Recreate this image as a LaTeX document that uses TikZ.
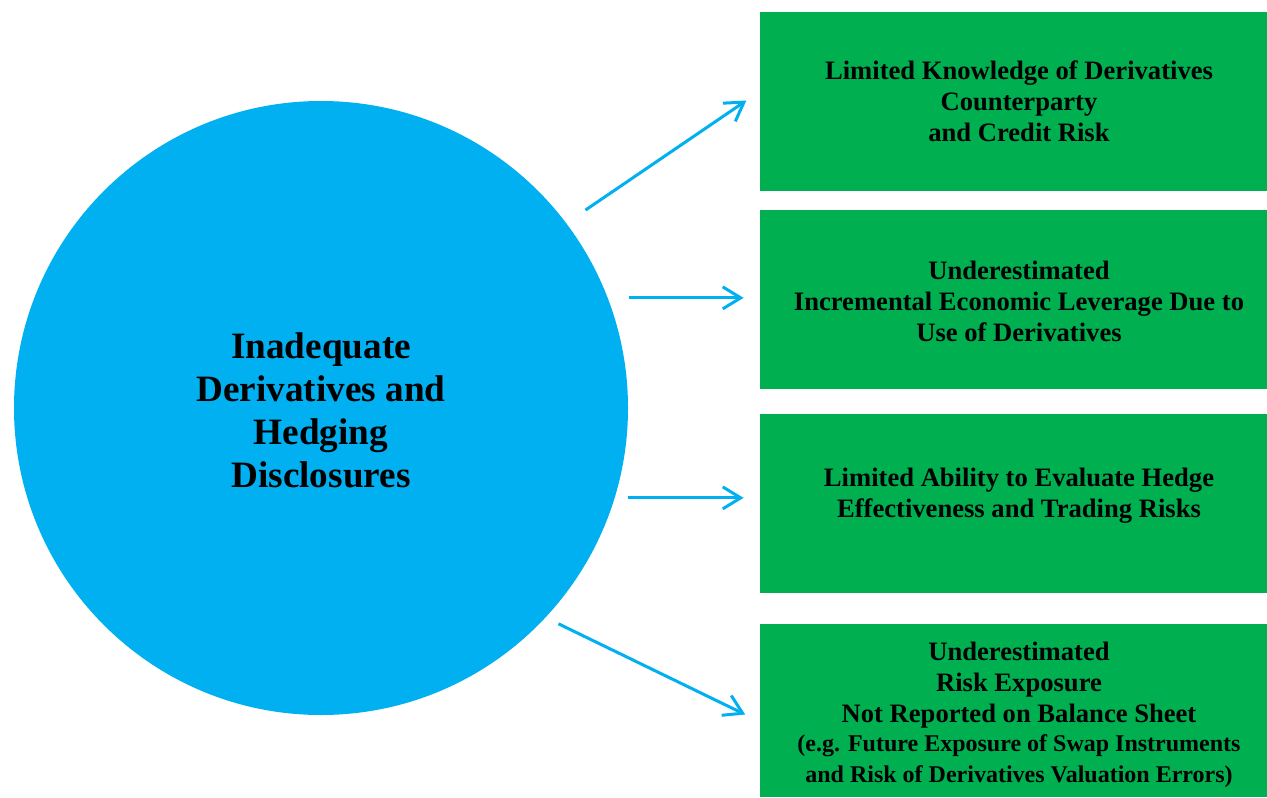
\documentclass[tikz,border=0pt]{standalone}
\usepackage{fontspec}
\setmainfont{Liberation Serif}
\usetikzlibrary{arrows.meta}

\definecolor{skyblue}{HTML}{00B0F0}
\definecolor{leafgreen}{HTML}{00B050}

\newcommand{\smallrisk}{\fontsize{12}{14}\selectfont}

\begin{document}
\begin{tikzpicture}[x=0.5pt, y=-0.5pt,
        riskbox/.style={fill=leafgreen, inner sep=0pt, minimum width=259pt, minimum height=89.5pt},
        risktext/.style={align=center, font=\bfseries\fontsize{13.3}{15.5}\selectfont},
        link/.style={skyblue, line width=1.5pt, -{Straight Barb[length=9pt, width=11pt]}, shorten >=8pt}
    ]
    \useasboundingbox (0,0) rectangle (1267,797);

    % the big circle on the left
    \node[circle, fill=skyblue, inner sep=0pt, minimum size=307pt] (disc) at (321,408) {};
    \node[align=center, font=\bfseries\fontsize{18.6}{21.5}\selectfont] (disctxt)
        at ([yshift=-1pt]disc.center) {Inadequate\\Derivatives and\\Hedging\\Disclosures};

    % boxes on the right
    \node[riskbox, risktext] (k1) at (1019,101.5)
        {Limited Knowledge of Derivatives\\Counterparty\\and Credit Risk};
    \node[riskbox] (k2) at (1019,299.5) {};
    \node[risktext] (k2txt) at ([yshift=-1pt]k2.center)
        {Underestimated\\Incremental Economic Leverage Due to\\Use of Derivatives};
    \node[riskbox] (k3) at (1019,503.5) {};
    \node[risktext] (k3txt) at ([yshift=4pt]k3.center)
        {Limited Ability to Evaluate Hedge\\Effectiveness and Trading Risks};
    \node[riskbox, minimum height=86.5pt] (k4) at (1019,710.5) {};
    \node[risktext] (k4txt) at ([yshift=-2pt]k4.center)
        {Underestimated\\Risk Exposure\\Not Reported on Balance Sheet\\[-1pt]
         \smallrisk (e.g. Future Exposure of Swap Instruments\\
         \smallrisk and Risk of Derivatives Valuation Errors)};

    % arrows
    \draw[link, shorten <=11.5pt] (disc.37.4) -- ([yshift=5pt]k1.west);
    \draw[link, shorten <=10.7pt] (disc.21.8) -- (disc.21.8 -| k2.west);
    \draw[link, shorten <=6.3pt] (disc.-17) -- (disc.-17 -| k3.west);
    \draw[link, shorten <=7pt] (disc.-43.1) -- ([yshift=-5.5pt]k4.west);
\end{tikzpicture}
\end{document}
